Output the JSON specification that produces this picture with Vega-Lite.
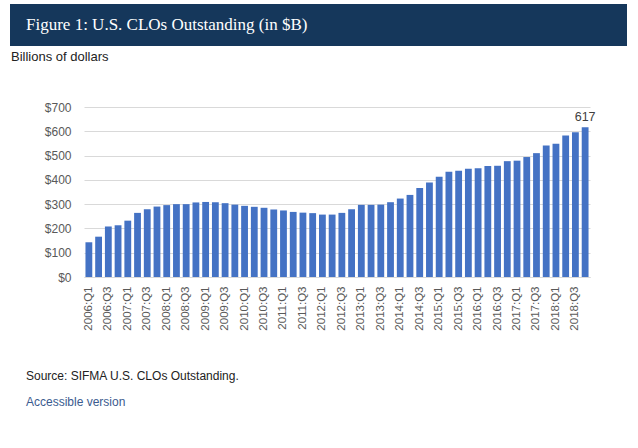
{
  "$schema": "https://vega.github.io/schema/vega-lite/v6.json",
  "padding": {"left": 10, "top": 4, "right": 10, "bottom": 4},
  "background": "white",
  "config": {"font": "Liberation Sans", "view": {"stroke": null}},
  "title": {
    "text": "Source: SIFMA U.S. CLOs Outstanding.",
    "subtitle": "Accessible version",
    "orient": "bottom", "anchor": "start", "frame": "bounds",
    "dx": 16, "offset": 41,
    "font": "Liberation Sans", "fontSize": 12, "fontWeight": "normal", "color": "#222222",
    "subtitleFont": "Liberation Sans", "subtitleFontSize": 12, "subtitleColor": "#3b5b8f", "subtitlePadding": 14
  },
  "spacing": 5,
  "vconcat": [
    {
      "width": 617, "height": 42,
      "view": {"fill": "#15375b", "stroke": null},
      "data": {"values": [{"heading": "Figure 1: U.S. CLOs Outstanding (in $B)"}]},
      "mark": {"type": "text", "align": "left", "baseline": "middle", "dx": -292.5, "font": "Liberation Serif", "fontSize": 17, "color": "#ffffff"},
      "encoding": {"text": {"field": "heading"}}
    },
    {
      "spacing": 0,
      "hconcat": [
        {"width": 1, "height": 1, "data": {"values": []}, "mark": "point"},
        {
          "width": 506, "height": 170,
          "title": {"text": "Billions of dollars", "anchor": "start", "frame": "group", "dx": -73, "offset": 37, "font": "Liberation Sans", "fontSize": 13, "fontWeight": "normal", "color": "#222222"},
          "data": {"values": [
            {"quarter": "2006:Q1", "value": 143}, {"quarter": "2006:Q2", "value": 166}, {"quarter": "2006:Q3", "value": 208}, {"quarter": "2006:Q4", "value": 213},
            {"quarter": "2007:Q1", "value": 232}, {"quarter": "2007:Q2", "value": 264}, {"quarter": "2007:Q3", "value": 279}, {"quarter": "2007:Q4", "value": 290},
            {"quarter": "2008:Q1", "value": 296}, {"quarter": "2008:Q2", "value": 300}, {"quarter": "2008:Q3", "value": 300}, {"quarter": "2008:Q4", "value": 307},
            {"quarter": "2009:Q1", "value": 309}, {"quarter": "2009:Q2", "value": 308}, {"quarter": "2009:Q3", "value": 304}, {"quarter": "2009:Q4", "value": 298},
            {"quarter": "2010:Q1", "value": 293}, {"quarter": "2010:Q2", "value": 289}, {"quarter": "2010:Q3", "value": 285}, {"quarter": "2010:Q4", "value": 278},
            {"quarter": "2011:Q1", "value": 274}, {"quarter": "2011:Q2", "value": 268}, {"quarter": "2011:Q3", "value": 265}, {"quarter": "2011:Q4", "value": 263},
            {"quarter": "2012:Q1", "value": 257}, {"quarter": "2012:Q2", "value": 257}, {"quarter": "2012:Q3", "value": 264}, {"quarter": "2012:Q4", "value": 279},
            {"quarter": "2013:Q1", "value": 297}, {"quarter": "2013:Q2", "value": 297}, {"quarter": "2013:Q3", "value": 298}, {"quarter": "2013:Q4", "value": 308},
            {"quarter": "2014:Q1", "value": 323}, {"quarter": "2014:Q2", "value": 338}, {"quarter": "2014:Q3", "value": 366}, {"quarter": "2014:Q4", "value": 389},
            {"quarter": "2015:Q1", "value": 413}, {"quarter": "2015:Q2", "value": 433}, {"quarter": "2015:Q3", "value": 437}, {"quarter": "2015:Q4", "value": 446},
            {"quarter": "2016:Q1", "value": 448}, {"quarter": "2016:Q2", "value": 457}, {"quarter": "2016:Q3", "value": 458}, {"quarter": "2016:Q4", "value": 477},
            {"quarter": "2017:Q1", "value": 479}, {"quarter": "2017:Q2", "value": 494}, {"quarter": "2017:Q3", "value": 510}, {"quarter": "2017:Q4", "value": 541},
            {"quarter": "2018:Q1", "value": 549}, {"quarter": "2018:Q2", "value": 583}, {"quarter": "2018:Q3", "value": 596}, {"quarter": "2018:Q4", "value": 617}
          ]},
          "encoding": {
            "x": {
              "field": "quarter", "type": "ordinal", "sort": null,
              "scale": {"paddingInner": 0.3, "paddingOuter": 0.15},
              "axis": {
                "title": null, "labelAngle": -90, "labelAlign": "right", "labelBaseline": "middle",
                "labelExpr": "test(/Q[13]$/, datum.value) ? datum.value : ''",
                "labelOverlap": false, "ticks": false, "domainColor": "#d9d9d9",
                "labelColor": "#595959", "labelFontSize": 11.5, "labelPadding": 9
              }
            },
            "y": {
              "field": "value", "type": "quantitative",
              "scale": {"domain": [0, 700], "nice": false},
              "axis": {
                "title": null, "values": [0, 100, 200, 300, 400, 500, 600, 700],
                "labelExpr": "'$' + datum.value", "domain": false, "ticks": false,
                "labelOverlap": false,
                "labelPadding": 13, "labelColor": "#595959", "labelFontSize": 12,
                "gridColor": "#d9d9d9"
              }
            }
          },
          "layer": [
            {
              "mark": {"type": "bar", "color": "#4472c4"}
            },
            {
              "transform": [{"filter": "datum.quarter == '2018:Q4'"}],
              "mark": {"type": "text", "baseline": "bottom", "dy": -3, "fontSize": 12.5, "color": "#404040"},
              "encoding": {
                "text": {"field": "value", "type": "quantitative"}
              }
            }
          ]
        }
      ]
    }
  ]
}
